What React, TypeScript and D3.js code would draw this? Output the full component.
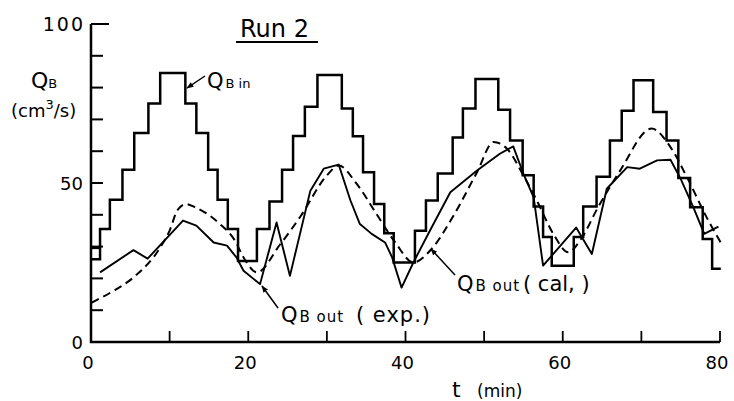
import React from 'react';
import * as d3 from 'd3';

// Q_B in : step input (time of change in min, new level in cm3/s)
const inTimes = [0, 1.15, 2.4, 4.0, 5.5, 7.3, 8.8, 12.0, 13.4, 14.9, 16.1, 17.4, 18.7,
  21.1, 22.7, 24.3, 25.7, 27.2, 28.8, 31.9, 33.3, 34.6, 36.0, 37.3, 38.5,
  41.2, 42.6, 44.1, 46.0, 47.3, 48.9, 51.8, 53.3, 54.9, 56.3, 57.5, 58.6,
  61.4, 62.6, 64.3, 66.0, 67.5, 69.0, 71.5, 73.2, 74.7, 76.2, 77.8, 79.0, 80.1];
const inLevels = [26, 35.5, 44.7, 54.2, 65.7, 75, 84.6, 75, 65.7, 54.2, 44.7, 35.5, 25.5,
  35.5, 44.2, 54.2, 64.8, 74, 84, 73.4, 64.7, 53.4, 43.4, 34.2, 25,
  35, 44.5, 53, 64.3, 73.4, 82.7, 73, 63.4, 52.4, 42.6, 33, 24,
  33, 42.6, 52, 63.4, 72.7, 82.3, 72.3, 63.4, 51.6, 42.4, 32.4, 23, 23];
// small box at the start of the input record
const inBoxTimes = [0, 1.15];
const inBoxLevels = [29.6, 29.6];

// Q_B out (exp.)
const expTimes = [1.15, 5.4, 7.2, 11.7, 13.4, 15.6, 17.3, 18.5, 19.4, 21.5, 23.6, 25.3, 27.9,
  29.6, 31.5, 33.0, 34.2, 35.7, 37.4, 38.3, 39.5, 41.0, 43.1, 45.7, 49.1, 52.0, 53.7,
  55.0, 56.3, 57.5, 61.7, 63.7, 65.6, 68.2, 69.8, 72.0, 73.7, 75.0, 76.6, 78.0, 79.8];
const expValues = [21.9, 28.9, 26.2, 38.2, 36.6, 31.3, 30.3, 26.6, 22.4, 18.2, 37.6, 20.8, 47.6,
  54.5, 55.8, 44.5, 37.1, 34, 31.3, 26.6, 17.1, 25, 35, 47.1, 53.9, 59.2, 61.5,
  52.9, 45.5, 24, 36, 27.7, 48.2, 55, 54.5, 57.1, 57.3, 51.3, 42.4, 34, 36.3];

// Q_B out (cal.)
const calTimes = [0.1, 2.8, 5.4, 8.8, 10.0, 11.0, 12.1, 13.2, 16.4, 18.3, 19.4, 21.1, 24.0,
  26.7, 30.0, 31.5, 33.8, 36.3, 38.7, 41.0, 43.3, 46.1, 49.1, 51.2, 52.9, 55.0, 56.7,
  58.8, 60.7, 62.2, 64.5, 67.3, 71.3, 73.7, 75.8, 78.3, 80.2];
const calValues = [12.4, 16, 20.3, 29.7, 35, 41.5, 43.4, 42.4, 37.1, 31.9, 26.6, 21.9, 30.5,
  39.7, 52.4, 55.5, 49.7, 40.3, 31.3, 25, 29.2, 39.7, 53.4, 62.9, 60.8, 52.4, 44.5,
  34, 28.2, 31.9, 42.4, 53.9, 67.1, 61.3, 51.8, 39.2, 30.8];

const xTicks = [0, 10, 20, 30, 40, 50, 60, 70, 80];
const xTickLabels = ['0', '20', '40', '60', '80'];
const yTicks = [0, 10, 20, 30, 40, 50, 60, 70, 80, 90, 100];
const yTickLabels = ['0', '50', '100'];

const FONT = '"DejaVu Sans", sans-serif';

export default function App() {
  const x = d3.scaleLinear().domain([0, 80]).range([91, 720]);
  const y = d3.scaleLinear().domain([0, 100]).range([342, 24]);

  const zip = (ts: number[], vs: number[]) => ts.map((t, i) => [t, vs[i]] as [number, number]);

  const stepLine = d3.line<[number, number]>()
    .x(d => x(d[0])).y(d => y(d[1])).curve(d3.curveStepAfter);
  const straight = d3.line<[number, number]>()
    .x(d => x(d[0])).y(d => y(d[1]));
  const smooth = d3.line<[number, number]>()
    .x(d => x(d[0])).y(d => y(d[1])).curve(d3.curveMonotoneX);

  const inPath = stepLine(zip(inTimes, inLevels)) || '';
  const boxPath = straight(zip(inBoxTimes, inBoxLevels)) || '';
  const expPath = straight(zip(expTimes, expValues)) || '';
  const calPath = smooth(zip(calTimes, calValues)) || '';

  const x0 = x(0);
  const y0 = y(0);

  return (
    <div>
      <style>{'body{margin:0}'}</style>
      <svg width={734} height={401} style={{ display: 'block', background: '#fff' }}>
        <defs>
          <marker id="ah" viewBox="0 0 10 10" refX="9" refY="5" markerWidth="7" markerHeight="7"
            orient="auto" markerUnits="userSpaceOnUse">
            <path d="M0,1 L10,5 L0,9 Z" fill="#000" />
          </marker>
        </defs>

        {/* axes */}
        <line x1={x0} y1={y(100)} x2={x0} y2={y0 + 1} stroke="#000" strokeWidth={2.5} />
        <line x1={x0 - 1} y1={y0} x2={x(80)} y2={y0} stroke="#000" strokeWidth={2.5} />
        {yTicks.map(v => (
          <line key={'yt' + v} x1={x0} x2={x0 + (v === 100 ? 18 : 12)} y1={y(v)} y2={y(v)}
            stroke="#000" strokeWidth={2} />
        ))}
        {xTicks.filter(v => v > 0).map(v => (
          <line key={'xt' + v} x1={x(v)} x2={x(v)} y1={y0} y2={y0 - 11} stroke="#000" strokeWidth={1.8} />
        ))}
        {yTickLabels.map(s => (
          <text key={'yl' + s} x={s === '100' ? 85 : 83} y={y(+s) + 7} textAnchor="end"
            fontFamily={FONT} fontSize={s === '100' ? 19 : 18} letterSpacing={s === '100' ? 2 : 0}>{s}</text>
        ))}
        {xTickLabels.map(s => (
          <text key={'xl' + s} x={x(+s) - 3} y={369} textAnchor="middle"
            fontFamily={FONT} fontSize={18}>{s}</text>
        ))}
        <text x={452} y={397} fontFamily={FONT} fontSize={22}>t</text>
        <text x={477} y={397} fontFamily={FONT} fontSize={17}>(min)</text>

        {/* y label */}
        <text x={31} y={88} fontFamily={FONT} fontSize={22}>
          Q<tspan fontSize={13}>B</tspan>
        </text>
        <text x={11} y={117} fontFamily={FONT} fontSize={18}>
          (cm<tspan fontSize={13} dy={-8}>3</tspan><tspan dy={8}>/s)</tspan>
        </text>

        {/* title */}
        <text x={240} y={37} fontFamily={FONT} fontSize={24}>Run 2</text>
        <line x1={236} x2={318} y1={42} y2={42} stroke="#000" strokeWidth={2} />

        {/* data */}
        <path d={inPath} fill="none" stroke="#000" strokeWidth={2.5} />
        <path d={boxPath} fill="none" stroke="#000" strokeWidth={2.5} />
        <path d={calPath} fill="none" stroke="#000" strokeWidth={2} strokeDasharray="8,5" />
        <path d={expPath} fill="none" stroke="#000" strokeWidth={1.9} strokeLinejoin="round" />

        {/* annotations */}
        <line x1={205} y1={76} x2={187} y2={88} stroke="#000" strokeWidth={1.5} markerEnd="url(#ah)" />
        <text x={207} y={88} fontFamily={FONT} fontSize={21}>
          Q<tspan fontSize={13} dx={2}>B in</tspan>
        </text>

        <line x1={278} y1={308} x2={262} y2={286} stroke="#000" strokeWidth={1.5} markerEnd="url(#ah)" />
        <text x={281} y={322} fontFamily={FONT} fontSize={21}>
          Q<tspan fontSize={15} dx={2} letterSpacing={1}>B out</tspan>
          <tspan x={356} fontSize={21} letterSpacing={1}>( exp.)</tspan>
        </text>

        <line x1={455} y1={275} x2={431} y2={249} stroke="#000" strokeWidth={1.5} markerEnd="url(#ah)" />
        <text x={457} y={291} fontFamily={FONT} fontSize={21}>
          Q<tspan fontSize={15} dx={2} letterSpacing={1}>B out</tspan>
          <tspan x={523} fontSize={21}>( cal, )</tspan>
        </text>
      </svg>
    </div>
  );
}
